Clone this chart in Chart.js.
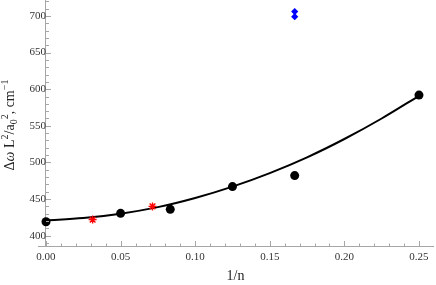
<!DOCTYPE html>
<html>
<head>
<meta charset="utf-8">
<script src="https://cdn.jsdelivr.net/npm/chart.js@4.4.1/dist/chart.umd.min.js"></script>
<style>
  body { margin: 0; background: #fff; }
  canvas { display: block; }
</style>
</head>
<body>
<canvas id="fitChart" width="436" height="285"></canvas>
<script>
// values
const xTicks = [0, 0.05, 0.10, 0.15, 0.20, 0.25];
const yTicks = [400, 450, 500, 550, 600, 650, 700];

// black circles (1/n, value)
const circleX = [0, 0.05, 0.0833, 0.125, 0.1667, 0.25];
const circleY = [419, 430.5, 436, 467, 482, 592];

// red stars
const starX = [0.03125, 0.0714];
const starY = [422, 440];

// blue diamonds
const diamondX = [0.1667, 0.1667];
const diamondY = [699, 706];

// fitted curve
const curveX = [0, 0.025, 0.05, 0.075, 0.10, 0.125, 0.15, 0.175, 0.20, 0.225, 0.25];
const curveY = [421, 424, 430, 439, 451.5, 467, 485.5, 507, 532, 560, 591];

const toPts = (xs, ys) => xs.map((x, i) => ({ x: x, y: ys[i] }));

const axisGray = '#a6a6a6';
const labelGray = '#333';

// inward tick marks, major + minor, like the original
const tickMarks = {
  id: 'tickMarks',
  afterDatasetsDraw(chart) {
    const ctx = chart.ctx;
    const xs = chart.scales.x, ys = chart.scales.y;
    const x0 = xs.getPixelForValue(0);
    const y0 = ys.getPixelForValue(ys.min);
    ctx.save();
    ctx.strokeStyle = axisGray;
    ctx.lineWidth = 1;
    ctx.beginPath();
    for (let i = 0; i <= 25; i++) {
      const px = Math.round(xs.getPixelForValue(i / 100)) + 0.5;
      const len = i % 5 === 0 ? 5 : 2.5;
      ctx.moveTo(px, y0);
      ctx.lineTo(px, y0 - len);
    }
    for (let v = 390; v <= 720; v += 10) {
      const py = Math.round(ys.getPixelForValue(v)) + 0.5;
      const len = v % 50 === 0 ? 5 : 3;
      ctx.moveTo(x0, py);
      ctx.lineTo(x0 + len, py);
    }
    ctx.stroke();
    ctx.restore();
  }
};

// y axis title with super/subscripts, rotated
const yTitle = {
  id: 'yTitle',
  afterDraw(chart) {
    const ctx = chart.ctx;
    const parts = [
      ['Δ', 0, false], ['ω', 0, true], [' L', 0, false], ['2', -6, false, true],
      ['/a', 0, false], ['0', 3, false, true], ['2', -6, false, true], [', cm', 0, false],
      ['−1', -6, false, true]
    ];
    const big = '14px "Liberation Serif"';
    const bigI = 'italic 14px "Liberation Serif"';
    const small = '10px "Liberation Serif"';
    const fontOf = p => p[3] ? small : (p[2] ? bigI : big);
    ctx.save();
    let w = 0;
    parts.forEach(p => { ctx.font = fontOf(p); w += ctx.measureText(p[0]).width; });
    ctx.translate(14, 125);
    ctx.rotate(-Math.PI / 2);
    ctx.fillStyle = '#222';
    ctx.textBaseline = 'alphabetic';
    let cx = -w / 2;
    parts.forEach(p => {
      ctx.font = fontOf(p);
      ctx.fillText(p[0], cx, p[1]);
      cx += ctx.measureText(p[0]).width;
    });
    ctx.restore();
  }
};

const noPad = s => { s.paddingLeft = 0; s.paddingRight = 0; s.paddingTop = 0; s.paddingBottom = 0; };

Chart.defaults.font.family = '"Liberation Serif", serif';

new Chart(document.getElementById('fitChart'), {
  type: 'scatter',
  data: {
    datasets: [
      {
        data: toPts(circleX, circleY),
        pointStyle: 'circle', pointRadius: 4.5,
        backgroundColor: '#000', borderColor: '#000', borderWidth: 0,
        order: 1, clip: false
      },
      {
        data: toPts(starX, starY),
        pointStyle: 'star', pointRadius: 4,
        borderColor: '#ff0000', backgroundColor: '#ff0000', borderWidth: 1.4,
        order: 1, clip: false
      },
      {
        data: toPts(diamondX, diamondY),
        pointStyle: 'rectRot', pointRadius: 3.6,
        backgroundColor: '#0000ff', borderColor: '#0000ff', borderWidth: 0,
        order: 1, clip: false
      },
      {
        data: toPts(curveX, curveY),
        showLine: true, pointRadius: 0, borderColor: '#000', borderWidth: 2,
        cubicInterpolationMode: 'monotone',
        order: 5, clip: false
      }
    ]
  },
  options: {
    responsive: false,
    animation: false,
    layout: { autoPadding: false, padding: { left: 38, right: 3, top: 0, bottom: 0 } },
    plugins: { legend: { display: false }, tooltip: { enabled: false } },
    scales: {
      x: {
        type: 'linear', position: 'bottom',
        min: -0.00536, max: 0.2594,
        afterBuildTicks: s => { s.ticks = xTicks.map(v => ({ value: v })); },
        afterFit: s => { s.height = 39; noPad(s); },
        grid: { display: false, drawTicks: false },
        border: { display: true, color: axisGray, width: 1 },
        ticks: {
          color: labelGray, font: { size: 11 }, padding: 5, maxRotation: 0,
          callback: v => v.toFixed(2)
        },
        title: { display: true, text: '1/n', color: '#222', font: { size: 14 }, padding: 0 }
      },
      y: {
        type: 'linear', position: { x: 0 },
        min: 385.9, max: 721.8,
        afterBuildTicks: s => { s.ticks = yTicks.map(v => ({ value: v })); },
        afterFit: noPad,
        grid: { display: false, drawTicks: false },
        border: { display: true, color: axisGray, width: 1 },
        ticks: { color: labelGray, font: { size: 11 }, padding: 4, callback: v => String(v) }
      }
    }
  },
  plugins: [tickMarks, yTitle]
});
</script>
</body>
</html>
